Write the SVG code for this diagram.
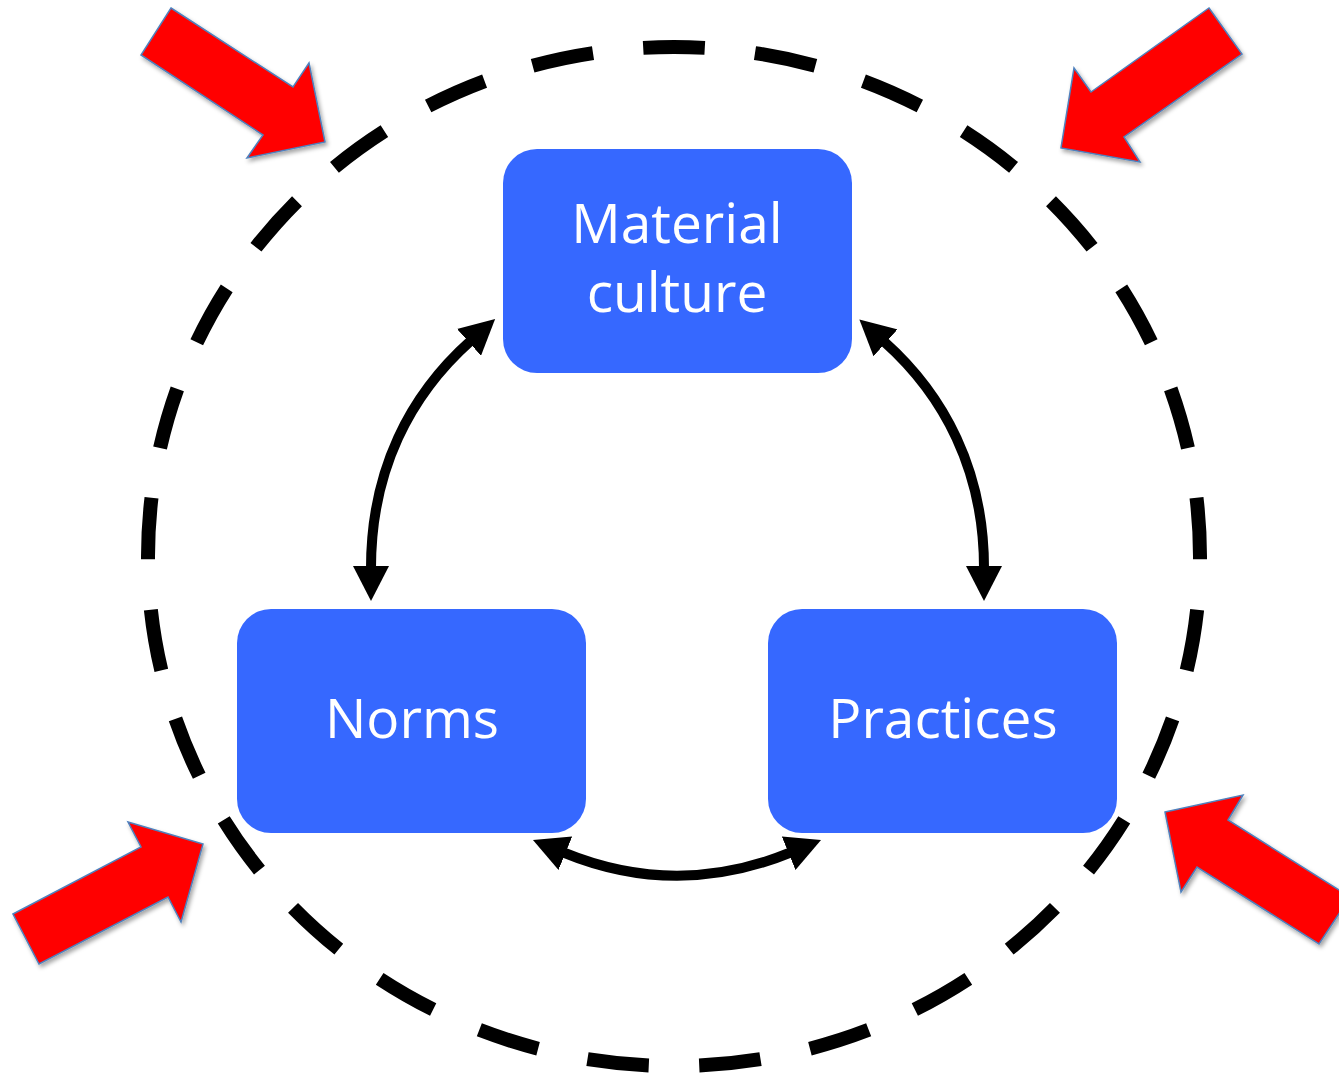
<svg xmlns="http://www.w3.org/2000/svg" width="1339" height="1074" viewBox="0 0 1339 1074">
<style>
.box{fill:#3668FF;}
.lbl{fill:#FFFFFF;font-family:"Open Sans","Noto Sans","Liberation Sans",sans-serif;font-size:55px;text-anchor:middle;}
.conn{fill:none;stroke:#000000;stroke-width:10;}
.red{fill:#FF0000;stroke:#4F81BD;stroke-width:1.5;stroke-linejoin:miter;}
</style>
<defs>
<marker id="head" viewBox="0 -18 35 36" refX="2" refY="0" markerWidth="35" markerHeight="36" markerUnits="userSpaceOnUse" orient="auto-start-reverse">
<path d="M0,-18 L35,0 L0,18 Z" fill="#000000"/>
</marker>
<filter id="shadow" x="-20%" y="-20%" width="140%" height="140%">
<feDropShadow dx="2" dy="3" stdDeviation="2" flood-color="#000000" flood-opacity="0.35"/>
</filter>
</defs>
<rect x="0" y="0" width="1339" height="1074" fill="#FFFFFF"/>
<g id="boundary">
<path d="M674,47 A526,509.5 0 0 1 674,1066 A526,509.5 0 0 1 674,47 Z" pathLength="29" fill="none" stroke="#000000" stroke-width="14" stroke-dasharray="0.55 0.45" stroke-dashoffset="0.275"/>
</g>
<g id="pressures" filter="url(#shadow)">
<polygon class="red" points="171,8 293,87 309,63 325,142 247,158 263,135 141,55"/>
<polygon class="red" points="1209,8 1242,54 1124,137 1140,162 1061,148 1074,68 1091,92"/>
<polygon class="red" points="13,914 141,847 128,822 203,844 181,922 168,897 39,964"/>
<polygon class="red" points="1165,812 1243,795 1228,820 1350,897 1319,944 1197,867 1181,892"/>
</g>
<g id="connectors">
<path class="conn" d="M371,568 C371,470 410,395 470.5,341" marker-start="url(#head)" marker-end="url(#head)"/>
<path class="conn" d="M984,568 C984,470 944,395 884,341.5" marker-start="url(#head)" marker-end="url(#head)"/>
<path class="conn" d="M563.5,852.5 Q677,899 790.5,852.5" marker-start="url(#head)" marker-end="url(#head)"/>
</g>
<g id="material-culture">
<rect class="box" x="503" y="149" width="349" height="224" rx="34" ry="34"/>
<text class="lbl" x="677" y="243">Material</text>
<text class="lbl" x="677" y="312">culture</text>
</g>
<g id="norms">
<rect class="box" x="237" y="609" width="349" height="224" rx="34" ry="34"/>
<text class="lbl" x="412" y="738">Norms</text>
</g>
<g id="practices">
<rect class="box" x="768" y="609" width="349" height="224" rx="34" ry="34"/>
<text class="lbl" x="943" y="738">Practices</text>
</g>
</svg>
